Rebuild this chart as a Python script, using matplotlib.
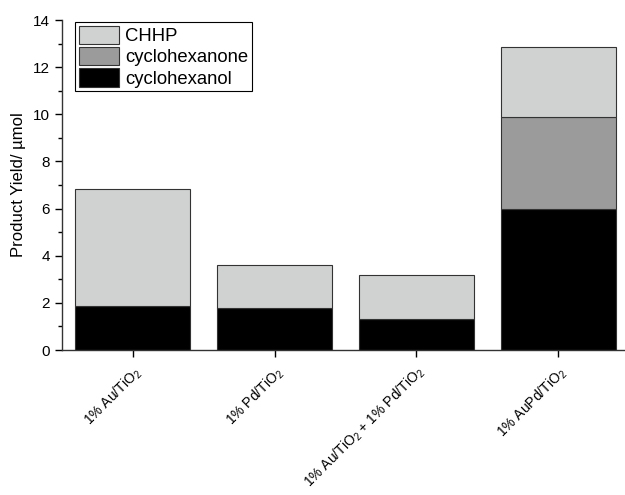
import matplotlib
matplotlib.use("Agg")
import matplotlib.pyplot as plt
import matplotlib.transforms as mtransforms
import numpy as np

plt.rcParams['font.family'] = ['Liberation Sans', 'DejaVu Sans']
plt.rcParams['mathtext.fontset'] = 'custom'
plt.rcParams['mathtext.rm'] = 'Liberation Sans'
plt.rcParams['mathtext.it'] = 'Liberation Sans'

catalysts = ["1% Au/TiO$_2$", "1% Pd/TiO$_2$", "1% Au/TiO$_2$ + 1% Pd/TiO$_2$", "1% AuPd/TiO$_2$"]
cyclohexanol = [1.85, 1.8, 1.3, 6.0]
cyclohexanone = [0.0, 0.0, 0.0, 3.9]
chhp = [5.0, 1.8, 1.9, 2.95]

fig = plt.figure(figsize=(6.25, 4.95), dpi=100)
ax = fig.add_axes([62/625, 1-350/495, 567/625, 330/495])

x = np.arange(len(catalysts))
w = 0.81
edge = dict(edgecolor="#333333", linewidth=0.8)
ax.bar(x, cyclohexanol, w, color="black", label="cyclohexanol", **edge)
ax.bar(x, cyclohexanone, w, bottom=cyclohexanol, color="#9b9b9b", label="cyclohexanone", **edge)
bottom2 = np.array(cyclohexanol) + np.array(cyclohexanone)
ax.bar(x, chhp, w, bottom=bottom2, color="#d0d2d1", label="CHHP", **edge)

ax.set_xlim(-0.5, 3.5)
ax.set_ylim(0, 14)
ax.set_yticks(np.arange(0, 15, 2))
ax.set_yticks(np.arange(1, 14, 2), minor=True)
ax.set_xticks(x)
ax.set_xticklabels(catalysts, rotation=45, ha="right", va="top", rotation_mode="anchor", fontsize=10)
shift = mtransforms.ScaledTranslation(8/100, 0, fig.dpi_scale_trans)
for lbl in ax.get_xticklabels():
    lbl.set_transform(lbl.get_transform() + shift)
ax.tick_params(axis="y", labelsize=11, length=5, width=1)
ax.tick_params(axis="y", which="minor", length=3, width=1)
ax.tick_params(axis="x", length=5, width=1, pad=5)
ax.set_ylabel("Product Yield/ µmol", fontsize=12, labelpad=5)
for s in ["top", "right"]:
    ax.spines[s].set_visible(False)
for s in ["left", "bottom"]:
    ax.spines[s].set_linewidth(1)
    ax.spines[s].set_color("#333333")

handles, labels = ax.get_legend_handles_labels()
leg = ax.legend(handles[::-1], labels[::-1], loc="upper left",
                bbox_to_anchor=(75/625, 1-22/495), bbox_transform=fig.transFigure,
                borderaxespad=0, fancybox=False, edgecolor="black", framealpha=1,
                fontsize=13.3, handlelength=2.2, handleheight=1.15, labelspacing=0.1,
                borderpad=0.2, handletextpad=0.3)
leg.get_frame().set_linewidth(0.8)

fig.savefig("out.png", dpi=100)
